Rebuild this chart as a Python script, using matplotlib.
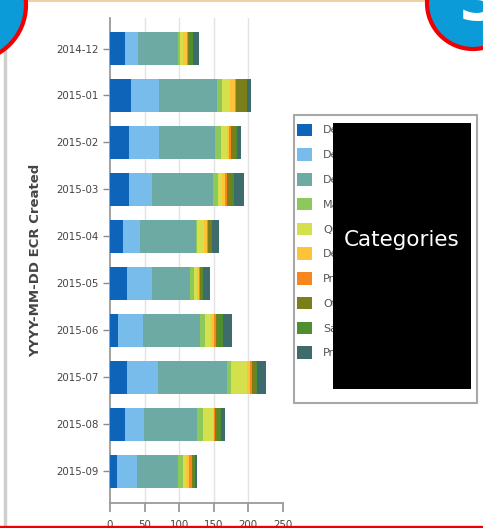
import matplotlib
matplotlib.use("Agg")
import matplotlib.pyplot as plt
import numpy as np
from matplotlib.patches import Rectangle, Circle
from matplotlib.lines import Line2D
from matplotlib.transforms import Bbox

# ---------------- data ----------------
months = ["2014-12", "2015-01", "2015-02", "2015-03", "2015-04",
          "2015-05", "2015-06", "2015-07", "2015-08", "2015-09"]
categories = ["Design", "Deviation", "Defect", "Material", "Quality",
              "Delivery", "Process", "Other", "Safety", "Pricing"]
s_design    = [22, 30, 27.5, 27.5, 19, 24, 12, 25, 21, 10]
s_deviation = [19, 41, 44, 33, 25, 37, 36, 45, 27.5, 29]
s_defect    = [57, 84, 80, 89, 81, 55, 82, 99, 77.5, 60]
s_material  = [4, 7, 9, 6.5, 1.5, 5, 8, 6, 8, 6]
s_quality   = [4, 11, 9, 6, 9.5, 5, 8, 24, 14.5, 5]
s_delivery  = [6, 8, 3, 5, 4.5, 3, 5, 3.5, 1.5, 4]
s_process   = [1, 1, 2, 2.5, 1.5, 1.5, 2.5, 2.5, 2.5, 4.5]
s_other     = [3, 16, 7, 6, 4, 3, 2.5, 6, 3.5, 2]
s_safety    = [4, 1, 2.5, 4, 1.5, 1.5, 7, 2.5, 4, 2.5]
s_pricing   = [9, 5, 6, 14.5, 10.5, 9.5, 13, 13, 7, 3]
series = [s_design, s_deviation, s_defect, s_material, s_quality,
          s_delivery, s_process, s_other, s_safety, s_pricing]
colors = ["#0e64b8", "#78bceb", "#6eaaa4", "#8cc95a", "#d4e04c",
          "#fdc43a", "#f7861f", "#7a7f19", "#4e8e2f", "#3e6b6c"]
x_ticks = [0, 50, 100, 150, 200, 250]
y_label = "YYYY-MM-DD ECR Created"
overlay_text = "Categories"

# ---------------- layout ----------------
W, H = 483, 528
fig = plt.figure(figsize=(W / 100, H / 100), dpi=100)
fig.patch.set_facecolor("white")

def fx(px):
    return px / W

def fy(py):
    return 1 - py / H

ax_l, ax_r, ax_t, ax_b = 110, 282.7, 18, 503
ax = fig.add_axes([fx(ax_l), fy(ax_b), fx(ax_r) - fx(ax_l), fy(ax_t) - fy(ax_b)])

ypos = np.arange(len(months))
left = np.zeros(len(months))
handles = []
for vals, col, name in zip(series, colors, categories):
    b = ax.barh(ypos, vals, left=left, height=0.70, color=col, label=name,
                linewidth=0, zorder=3)
    handles.append(b)
    left = left + np.array(vals)

ax.set_xlim(0, 250)
ax.set_ylim(len(months) - 1 + 0.68, -0.65)
ax.set_xticks(x_ticks)
ax.set_xticklabels([str(t) for t in x_ticks])
ax.set_yticks(ypos)
ax.set_yticklabels(months)

for sp in ["top", "right"]:
    ax.spines[sp].set_visible(False)
for sp in ["left", "bottom"]:
    ax.spines[sp].set_color("#9a9a9a")
    ax.spines[sp].set_linewidth(1.3)

ax.tick_params(axis="y", length=5, width=1, color="#8a8a8a", pad=3,
               labelsize=7.4, labelcolor="#444444")
ax.tick_params(axis="x", length=6.5, width=1.3, color="#9a9a9a", pad=6,
               labelsize=7.4, labelcolor="#444444")

ax.grid(axis="x", color="#e2e2e2", linewidth=1, zorder=0)
ax.set_axisbelow(True)
gl = ax.get_xgridlines()
gl[0].set_visible(False)
gl[-1].set_visible(False)

ax.set_ylabel(y_label, fontsize=9.5, fontweight="bold", color="#444444")
ax.yaxis.set_label_coords((42 - ax_l) / (ax_r - ax_l), 0.5)

# legend
fs = 8
fs_px = fs * 100 / 72
leg = ax.legend(handles=handles, labels=categories, loc="upper left",
                bbox_to_anchor=(fx(297), fy(123.5)), bbox_transform=fig.transFigure,
                frameon=False, borderpad=0, borderaxespad=0,
                handlelength=15 / fs_px, handleheight=15 / fs_px,
                handletextpad=11 / fs_px, labelspacing=12.3 / fs_px,
                fontsize=fs, labelcolor="#555555")
# the legend labels disappear behind the overlay box: clip them at its left edge
clip_bb = Bbox.from_extents(290, 0, 333, H)
for t in leg.get_texts():
    t.set_clip_box(clip_bb)
    t.set_clip_on(True)

# legend frame
fig.patches.append(Rectangle((fx(294), fy(403)), fx(477) - fx(294), fy(115) - fy(403),
                             transform=fig.transFigure, facecolor="none",
                             edgecolor="#a8a8a8", linewidth=1.5, zorder=5))

# black overlay box
fig.patches.append(Rectangle((fx(333), fy(389)), fx(471) - fx(333), fy(123) - fy(389),
                             transform=fig.transFigure, facecolor="black",
                             edgecolor="none", zorder=10))
fig.text(fx(402), fy(246.5), overlay_text, color="white", fontsize=15.5,
         ha="center", va="baseline", zorder=11)

# decorations: left gray rule, top beige rule, bottom red rule
fig.add_artist(Line2D([fx(5), fx(5)], [0, 1], transform=fig.transFigure,
                      color="#cfcfcf", linewidth=2.5, zorder=1))
fig.add_artist(Line2D([0, 1], [fy(0.8), fy(0.8)], transform=fig.transFigure,
                      color="#f2cd9e", linewidth=1.4, zorder=1))
fig.add_artist(Line2D([0, 1], [fy(526.5), fy(526.5)], transform=fig.transFigure,
                      color="#f00000", linewidth=2.4, zorder=20))

# corner circles (inches coordinates so they stay round)
def pin(px, py):
    return (px / 100, (H - py) / 100)

c1 = Circle(pin(-30, 5), 56 / 100, transform=fig.dpi_scale_trans,
            facecolor="#0b9bd8", edgecolor="#f00000", linewidth=3, zorder=20)
c2 = Circle(pin(473, 3), 46 / 100, transform=fig.dpi_scale_trans,
            facecolor="#0b9bd8", edgecolor="#f00000", linewidth=3, zorder=20)
fig.patches.append(c1)
fig.patches.append(c2)
fig.text(fx(459), fy(20), "3", color="white", fontsize=46, fontweight="bold",
         ha="left", va="baseline", zorder=21)

fig.savefig("out.png", dpi=100)
